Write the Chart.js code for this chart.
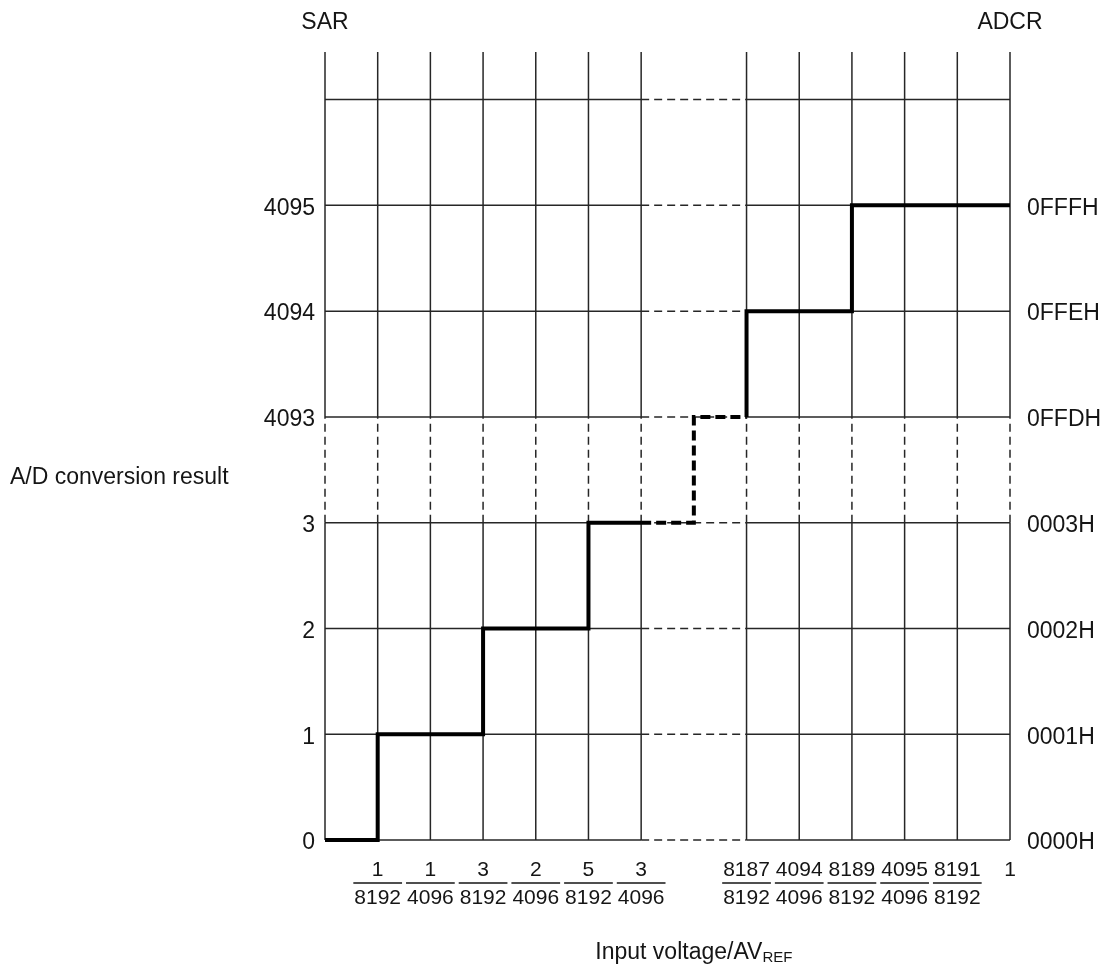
<!DOCTYPE html>
<html lang="en">
<head>
    <meta charset="UTF-8">
    <title>A/D conversion characteristics</title>
    <script src="https://cdn.jsdelivr.net/npm/chart.js"></script>
    <style>
        body { margin: 0; background: #ffffff; }
        .chart-box { position: relative; width: 1110px; height: 967px; }
    </style>
</head>
<body>
    <div class="chart-box">
        <canvas id="adc-chart"></canvas>
    </div>
    <script>
        // grid columns (x in 1/8192 steps, column 7 is the broken part)
        const gridX = [0, 1, 2, 3, 4, 5, 6, 8, 9, 10, 11, 12, 13];
        const levels = [0, 1, 2, 3, 4, 5, 6, 7];
        const topLevel = 7.45;
        const gapFrom = 6, gapTo = 8;       // horizontal lines dashed here
        const bandLow = 3, bandHigh = 4;    // vertical lines dashed here

        const sarLabels = ['0', '1', '2', '3', '4093', '4094', '4095'];
        const adcrLabels = ['0000H', '0001H', '0002H', '0003H', '0FFDH', '0FFEH', '0FFFH'];
        const numerators = ['', '1', '1', '3', '2', '5', '3', '', '8187', '4094', '8189', '4095', '8191', '1'];
        const denominators = ['', '8192', '4096', '8192', '4096', '8192', '4096', '', '8192', '4096', '8192', '4096', '8192', ''];

        // conversion result staircase
        const stepX = [0, 1, 1, 3, 3, 5, 5, 6, 7, 7, 8, 8, 10, 10, 13];
        const stepY = [0, 0, 1, 1, 2, 2, 3, 3, 3, 4, 4, 5, 5, 6, 6];

        const ink = '#151515';
        const gridColor = '#262626';
        const fontFamily = "'Liberation Sans', Arial, sans-serif";

        const datasets = [];
        datasets.push({
            data: stepX.map((x, i) => ({ x: x, y: stepY[i] })),
            borderColor: '#000',
            borderWidth: 4,
            borderCapStyle: 'butt',
            borderJoinStyle: 'miter',
            pointRadius: 0,
            clip: false,
            order: 0,
            segment: {
                borderDash: c => (c.p0.parsed.x >= gapFrom && c.p0.parsed.x < gapTo && c.p1.parsed.x <= gapTo) ? [10, 5] : undefined
            }
        });
        gridX.forEach(x => {
            datasets.push({
                data: [{ x: x, y: 0 }, { x: x, y: bandLow }, { x: x, y: bandHigh }, { x: x, y: topLevel }],
                borderColor: gridColor,
                borderWidth: 1.5,
                pointRadius: 0,
                clip: false,
                order: 1,
                segment: { borderDash: c => c.p0DataIndex === 1 ? [8, 5] : undefined }
            });
        });
        levels.forEach(y => {
            datasets.push({
                data: [{ x: 0, y: y }, { x: gapFrom, y: y }, { x: gapTo, y: y }, { x: 13, y: y }],
                borderColor: gridColor,
                borderWidth: 1.5,
                pointRadius: 0,
                clip: false,
                order: 1,
                segment: { borderDash: c => c.p0DataIndex === 1 ? [8, 5] : undefined }
            });
        });

        const fixedTicks = (vals) => (scale) => { scale.ticks = vals.map(v => ({ value: v })); };

        const extras = {
            id: 'extras',
            afterDraw(chart) {
                const ctx = chart.ctx;
                const xs = chart.scales.x, ys = chart.scales.y;
                const area = chart.chartArea;
                ctx.save();
                ctx.fillStyle = ink;
                ctx.strokeStyle = ink;
                // fraction bars under the numerators
                ctx.font = '21px ' + fontFamily;
                ctx.lineWidth = 1.5;
                denominators.forEach((d, i) => {
                    if (!d) return;
                    const px = xs.getPixelForValue(i);
                    const w = ctx.measureText(d).width + 2;
                    ctx.beginPath();
                    ctx.moveTo(px - w / 2, area.bottom + 43);
                    ctx.lineTo(px + w / 2, area.bottom + 43);
                    ctx.stroke();
                });
                // headings
                ctx.font = '23px ' + fontFamily;
                ctx.textAlign = 'center';
                ctx.textBaseline = 'middle';
                ctx.fillText('SAR', xs.getPixelForValue(0), 23);
                ctx.fillText('ADCR', xs.getPixelForValue(13), 23);
                ctx.textAlign = 'left';
                ctx.fillText('A/D conversion result', 10, (ys.getPixelForValue(bandLow) + ys.getPixelForValue(bandHigh)) / 2 + 8);
                // x axis title with subscript
                const main = 'Input voltage/AV';
                const sub = 'REF';
                const mw = ctx.measureText(main).width;
                ctx.font = '15px ' + fontFamily;
                const sw = ctx.measureText(sub).width;
                const start = xs.getPixelForValue(7) - (mw + sw) / 2;
                ctx.font = '23px ' + fontFamily;
                ctx.fillText(main, start, 953);
                ctx.font = '15px ' + fontFamily;
                ctx.fillText(sub, start + mw, 958);
                ctx.restore();
            }
        };

        new Chart(document.getElementById('adc-chart'), {
            type: 'line',
            data: { datasets: datasets },
            options: {
                responsive: true,
                maintainAspectRatio: false,
                animation: false,
                layout: { padding: { top: 52, left: 0, right: 0, bottom: 0 } },
                plugins: { legend: { display: false }, tooltip: { enabled: false } },
                scales: {
                    x: {
                        type: 'linear',
                        min: 0,
                        max: 13,
                        afterBuildTicks: fixedTicks(numerators.map((n, i) => i)),
                        afterFit: s => { s.height = 127; },
                        grid: { display: false, drawTicks: false },
                        border: { display: false },
                        ticks: {
                            autoSkip: false,
                            maxRotation: 0,
                            padding: 17,
                            color: ink,
                            font: { family: fontFamily, size: 21, lineHeight: 1.3 },
                            callback: (v, i) => denominators[i] ? [numerators[i], denominators[i]] : numerators[i]
                        }
                    },
                    y: {
                        type: 'linear',
                        position: 'left',
                        min: 0,
                        max: topLevel,
                        afterBuildTicks: fixedTicks(sarLabels.map((l, i) => i)),
                        afterFit: s => { s.width = 325; },
                        grid: { display: false, drawTicks: false },
                        border: { display: false },
                        ticks: {
                            autoSkip: false,
                            padding: 10,
                            labelOffset: 3,
                            color: ink,
                            font: { family: fontFamily, size: 23 },
                            callback: (v, i) => sarLabels[i]
                        }
                    },
                    y2: {
                        type: 'linear',
                        position: 'right',
                        min: 0,
                        max: topLevel,
                        afterBuildTicks: fixedTicks(adcrLabels.map((l, i) => i)),
                        afterFit: s => { s.width = 100; },
                        grid: { display: false, drawTicks: false },
                        border: { display: false },
                        ticks: {
                            autoSkip: false,
                            padding: 17,
                            labelOffset: 3,
                            color: ink,
                            font: { family: fontFamily, size: 23 },
                            callback: (v, i) => adcrLabels[i]
                        }
                    }
                }
            },
            plugins: [extras]
        });
    </script>
</body>
</html>
